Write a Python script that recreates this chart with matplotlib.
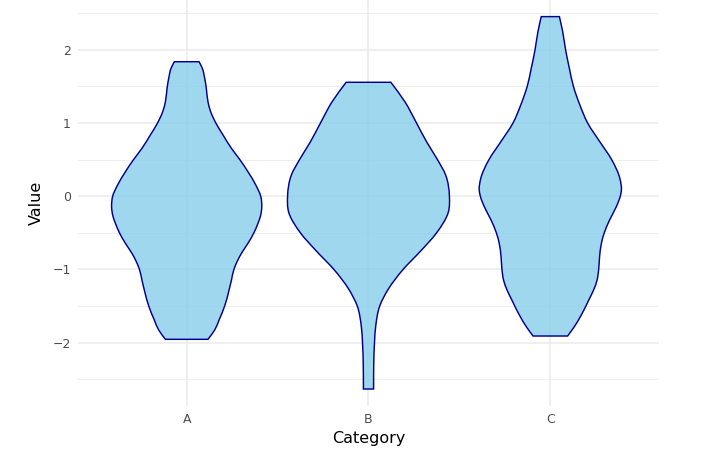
import matplotlib
matplotlib.use("Agg")
import matplotlib.pyplot as plt
from matplotlib.path import Path
from matplotlib.patches import PathPatch
import numpy as np

# ---- data (violin outline: value level -> half width) ----
categories = ["A", "B", "C"]

a_levels = [1.836, 1.746, 1.609, 1.473, 1.290, 1.153, 1.000, 0.835, 0.653, 0.500,
            0.333, 0.152, 0.000, -0.145, -0.280, -0.372, -0.500, -0.645, -0.782,
            -0.896, -1.000, -1.149, -1.283, -1.500, -1.693, -1.829, -1.956]
a_halfw = [0.068, 0.086, 0.099, 0.108, 0.117, 0.132, 0.160, 0.200, 0.246, 0.292,
           0.337, 0.380, 0.407, 0.413, 0.405, 0.392, 0.370, 0.337, 0.301,
           0.277, 0.260, 0.246, 0.233, 0.209, 0.178, 0.154, 0.117]

b_levels = [1.555, 1.29, 1.00, 0.74, 0.50, 0.29, 0.00, -0.22, -0.50, -0.76, -1.00,
            -1.27, -1.50, -1.77, -2.00, -2.27, -2.635]
b_halfw = [0.123, 0.200, 0.264, 0.320, 0.379, 0.424, 0.445, 0.439, 0.375, 0.283,
           0.191, 0.109, 0.062, 0.040, 0.033, 0.029, 0.028]

c_levels = [2.452, 2.247, 2.000, 1.744, 1.500, 1.242, 1.000, 0.740, 0.500, 0.237,
            0.083, 0.000, -0.145, -0.327, -0.500, -0.645, -0.828, -1.000, -1.149,
            -1.283, -1.422, -1.500, -1.648, -1.784, -1.911]
c_halfw = [0.050, 0.068, 0.084, 0.105, 0.127, 0.163, 0.205, 0.273, 0.337, 0.383,
           0.391, 0.385, 0.363, 0.326, 0.297, 0.281, 0.271, 0.266, 0.257,
           0.238, 0.211, 0.196, 0.165, 0.132, 0.095]

y_ticks = [-2, -1, 0, 1, 2]
y_minor = [-2.5, -1.5, -0.5, 0.5, 1.5, 2.5]


def hermite_bezier(levels, halfw, cx, sign):
    """Bezier (CURVE4) segments of half-width as a smooth function of level."""
    y = np.asarray(levels, float)
    w = np.asarray(halfw, float)
    n = len(y)
    m = np.zeros(n)
    for i in range(n):
        if i == 0:
            m[i] = (w[1] - w[0]) / (y[1] - y[0])
        elif i == n - 1:
            m[i] = (w[-1] - w[-2]) / (y[-1] - y[-2])
        else:
            d0 = (w[i] - w[i - 1]) / (y[i] - y[i - 1])
            d1 = (w[i + 1] - w[i]) / (y[i + 1] - y[i])
            h0 = abs(y[i] - y[i - 1])
            h1 = abs(y[i + 1] - y[i])
            m[i] = (d0 * h1 + d1 * h0) / (h0 + h1)
    verts, codes = [], []
    for i in range(n - 1):
        h = y[i + 1] - y[i]
        c1 = (cx + sign * (w[i] + m[i] * h / 3.0), y[i] + h / 3.0)
        c2 = (cx + sign * (w[i + 1] - m[i + 1] * h / 3.0), y[i + 1] - h / 3.0)
        p2 = (cx + sign * w[i + 1], y[i + 1])
        verts += [c1, c2, p2]
        codes += [Path.CURVE4] * 3
    return verts, codes


def violin_path(cx, levels, halfw):
    verts = [(cx - halfw[0], levels[0]), (cx + halfw[0], levels[0])]
    codes = [Path.MOVETO, Path.LINETO]
    v, c = hermite_bezier(levels, halfw, cx, +1)
    verts += v
    codes += c
    verts.append((cx - halfw[-1], levels[-1]))
    codes.append(Path.LINETO)
    v, c = hermite_bezier(levels[::-1], halfw[::-1], cx, -1)
    verts += v
    codes += c
    verts.append((cx - halfw[0], levels[0]))
    codes.append(Path.CLOSEPOLY)
    return Path(verts, codes)


fig = plt.figure(figsize=(7.04, 4.5), dpi=100)
ax = fig.add_axes([77.6 / 704, 44 / 450, 581.8 / 704, 406 / 450])

series = [(a_levels, a_halfw), (b_levels, b_halfw), (c_levels, c_halfw)]
for i, (lv, hw) in enumerate(series):
    p = violin_path(i + 1, lv, hw)
    ax.add_patch(PathPatch(p, facecolor="#87CEEB", alpha=0.8, edgecolor="none", zorder=3))
    ax.add_patch(PathPatch(p, facecolor="none", edgecolor="#00008B", lw=1.05, zorder=4))

ax.set_xlim(0.4, 3.6)
ax.set_ylim(-2.867, 2.679)
ax.set_xticks([1, 2, 3])
ax.set_xticklabels(categories)
ax.set_yticks(y_ticks)
ax.set_yticklabels([("\u2212" + str(-t)) if t < 0 else str(t) for t in y_ticks])
ax.set_yticks(y_minor, minor=True)

ax.grid(which="major", color="#EBEBEB", lw=1.08, zorder=0)
ax.grid(which="minor", axis="y", color="#EBEBEB", lw=0.55, zorder=0)
ax.set_axisbelow(True)
for s in ax.spines.values():
    s.set_visible(False)
ax.tick_params(which="both", length=0)
ax.tick_params(axis="x", pad=5, labelsize=9, labelcolor="#4D4D4D")
ax.tick_params(axis="y", pad=5, labelsize=9, labelcolor="#4D4D4D")

ax.set_xlabel("Category", fontsize=11.5, color="black", labelpad=4)
ax.set_ylabel("Value", fontsize=11.5, color="black", labelpad=6)

fig.savefig("out.png", dpi=100)
